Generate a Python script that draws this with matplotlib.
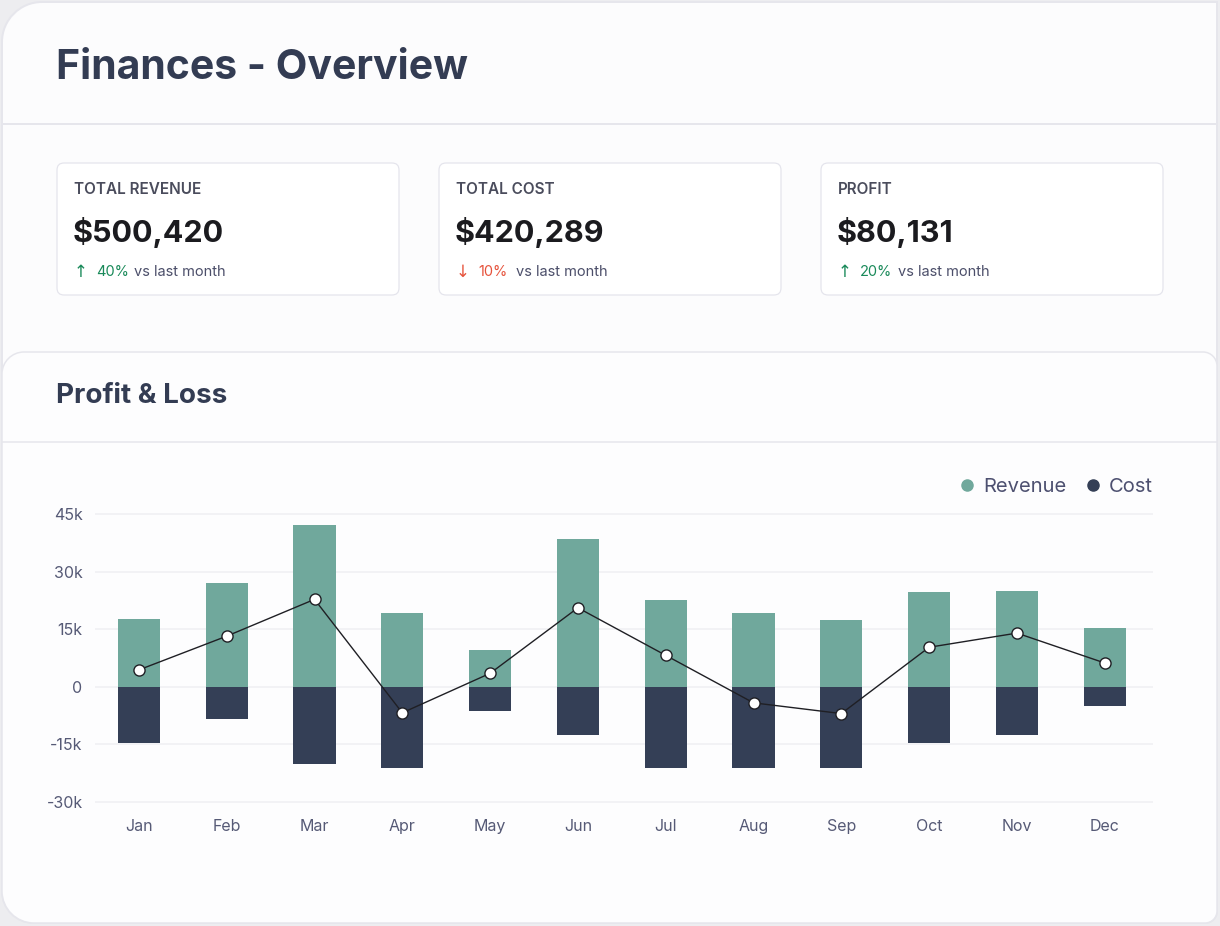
import matplotlib
matplotlib.use("Agg")
import matplotlib.pyplot as plt
from matplotlib.patches import FancyBboxPatch, PathPatch
from matplotlib.path import Path
from matplotlib.lines import Line2D

# ---------------- data ----------------
months = ["Jan", "Feb", "Mar", "Apr", "May", "Jun", "Jul", "Aug", "Sep", "Oct", "Nov", "Dec"]
revenue = [17700, 27000, 42200, 19200, 9500, 38600, 22600, 19200, 17300, 24700, 25000, 15300]
cost = [14700, 8400, 20200, 21200, 6300, 12600, 21200, 21200, 21200, 14700, 12600, 5000]
profit = [4400, 13200, 22800, -6800, 3500, 20600, 8200, -4200, -7000, 10300, 14000, 6200]
y_ticks = [-30000, -15000, 0, 15000, 30000, 45000]
y_tick_labels = ["-30k", "-15k", "0", "15k", "30k", "45k"]

kpi_titles = ["TOTAL REVENUE", "TOTAL COST", "PROFIT"]
kpi_values = ["$500,420", "$420,289", "$80,131"]
kpi_changes = ["40%", "10%", "20%"]
kpi_up = [True, False, True]

REV_C = "#70a89c"
COST_C = "#343f56"
TITLE_C = "#333c53"
AXIS_TXT = "#565a76"
GRID_C = "#f0f0f4"
BORDER_C = "#e6e6ec"

FONT = ["Inter", "DejaVu Sans"]
plt.rcParams["font.family"] = FONT

W, H = 1220, 926
fig = plt.figure(figsize=(W / 100, H / 100), dpi=100, facecolor="#ededf0")

bg = fig.add_axes([0, 0, 1, 1])
bg.set_xlim(0, W)
bg.set_ylim(H, 0)
bg.axis("off")

px = 0.72  # 1 px in points
K = 0.5523


def round_rect(x0, y0, x1, y1, tl, tr, br, bl):
    # y grows downward (pixel coords)
    verts, codes = [], []
    verts.append((x0 + tl, y0)); codes.append(Path.MOVETO)
    verts.append((x1 - tr, y0)); codes.append(Path.LINETO)
    if tr:
        verts += [(x1 - tr + K * tr, y0), (x1, y0 + tr - K * tr), (x1, y0 + tr)]
        codes += [Path.CURVE4] * 3
    verts.append((x1, y1 - br)); codes.append(Path.LINETO)
    if br:
        verts += [(x1, y1 - br + K * br), (x1 - br + K * br, y1), (x1 - br, y1)]
        codes += [Path.CURVE4] * 3
    verts.append((x0 + bl, y1)); codes.append(Path.LINETO)
    if bl:
        verts += [(x0 + bl - K * bl, y1), (x0, y1 - bl + K * bl), (x0, y1 - bl)]
        codes += [Path.CURVE4] * 3
    verts.append((x0, y0 + tl)); codes.append(Path.LINETO)
    if tl:
        verts += [(x0, y0 + tl - K * tl), (x0 + tl - K * tl, y0), (x0 + tl, y0)]
        codes += [Path.CURVE4] * 3
    verts.append((x0 + tl, y0)); codes.append(Path.CLOSEPOLY)
    return Path(verts, codes)


outer = PathPatch(round_rect(2, 2, 1217, 923, 40, 0, 12, 32),
                  facecolor="#fcfcfd", edgecolor=BORDER_C, linewidth=2 * px)
bg.add_patch(outer)
bg.plot([2, 1217], [124, 124], color=BORDER_C, lw=2 * px)

bg.text(56, 68, "Finances - Overview", fontsize=29.5, fontweight="bold",
        color=TITLE_C, ha="left", va="center")

card_x = [57, 439, 821]
for i in range(3):
    x0 = card_x[i]
    card = FancyBboxPatch((x0, 163), 342, 132, boxstyle="round,pad=0,rounding_size=7",
                          facecolor="white", edgecolor="#e4e4ec", linewidth=1.2 * px)
    bg.add_patch(card)
    bg.text(x0 + 17, 189, kpi_titles[i], fontsize=11, fontweight="semibold",
            color="#4a4c5c", ha="left", va="center")
    bg.text(x0 + 16, 232, kpi_values[i], fontsize=22, fontweight="bold",
            color="#1b1b1f", ha="left", va="center")
    col = "#1a8a5a" if kpi_up[i] else "#e6533c"
    arrow = "↑" if kpi_up[i] else "↓"
    bg.text(x0 + 17, 272, arrow, fontsize=12, color=col, ha="left", va="center",
            family=["DejaVu Sans"])
    bg.text(x0 + 39, 272, kpi_changes[i], fontsize=10.5, color=col, ha="left", va="center")
    bg.text(x0 + 77, 272, "vs last month", fontsize=10.5, color="#4c4f6a", ha="left", va="center")

# Profit & Loss card
pl = PathPatch(round_rect(2, 352, 1217, 923, 22, 14, 12, 32),
               facecolor="#fdfdfe", edgecolor=BORDER_C, linewidth=1.5 * px)
bg.add_patch(pl)
bg.plot([2, 1217], [442, 442], color=BORDER_C, lw=1.5 * px)
bg.text(56, 396, "Profit & Loss", fontsize=20, fontweight="bold",
        color=TITLE_C, ha="left", va="center")

# ---------------- chart ----------------
ax_l, ax_r, ax_t, ax_b = 95, 1153, 510, 806
ax = fig.add_axes([ax_l / W, (H - ax_b) / H, (ax_r - ax_l) / W, (ax_b - ax_t) / H])
ax.set_facecolor("none")
x = list(range(len(months)))
ax.bar(x, revenue, width=0.48, color=REV_C, zorder=2)
ax.bar(x, [-c for c in cost], width=0.48, color=COST_C, zorder=2)
ax.plot(x, profit, color="#1f1f24", lw=1.0, marker="o", markersize=8,
        markerfacecolor="white", markeredgecolor="#1f1f24", markeredgewidth=1.0, zorder=3)

ax.set_xlim(-0.5, 11.55)
ax.set_ylim(-31122, 46122)
ax.set_yticks(y_ticks)
ax.set_yticklabels(y_tick_labels)
ax.set_xticks(x)
ax.set_xticklabels(months)
ax.grid(axis="y", color=GRID_C, lw=1.2, zorder=0)
ax.set_axisbelow(True)
for s in ax.spines.values():
    s.set_visible(False)
ax.tick_params(axis="both", length=0, colors=AXIS_TXT, labelsize=11.5)
ax.tick_params(axis="y", pad=9)
ax.tick_params(axis="x", pad=9.5)

handles = [Line2D([], [], marker="o", ls="none", markersize=8, color=REV_C, label="Revenue"),
           Line2D([], [], marker="o", ls="none", markersize=8, color=COST_C, label="Cost")]
fig.legend(handles=handles, loc="center right", bbox_to_anchor=(1153 / W, (H - 487) / H),
           ncol=2, frameon=False, fontsize=14.5, handlelength=0.6, handletextpad=0.5,
           columnspacing=1.0, borderpad=0, borderaxespad=0, labelcolor="#4d5070")

fig.savefig("out.png", dpi=100, facecolor=fig.get_facecolor())
